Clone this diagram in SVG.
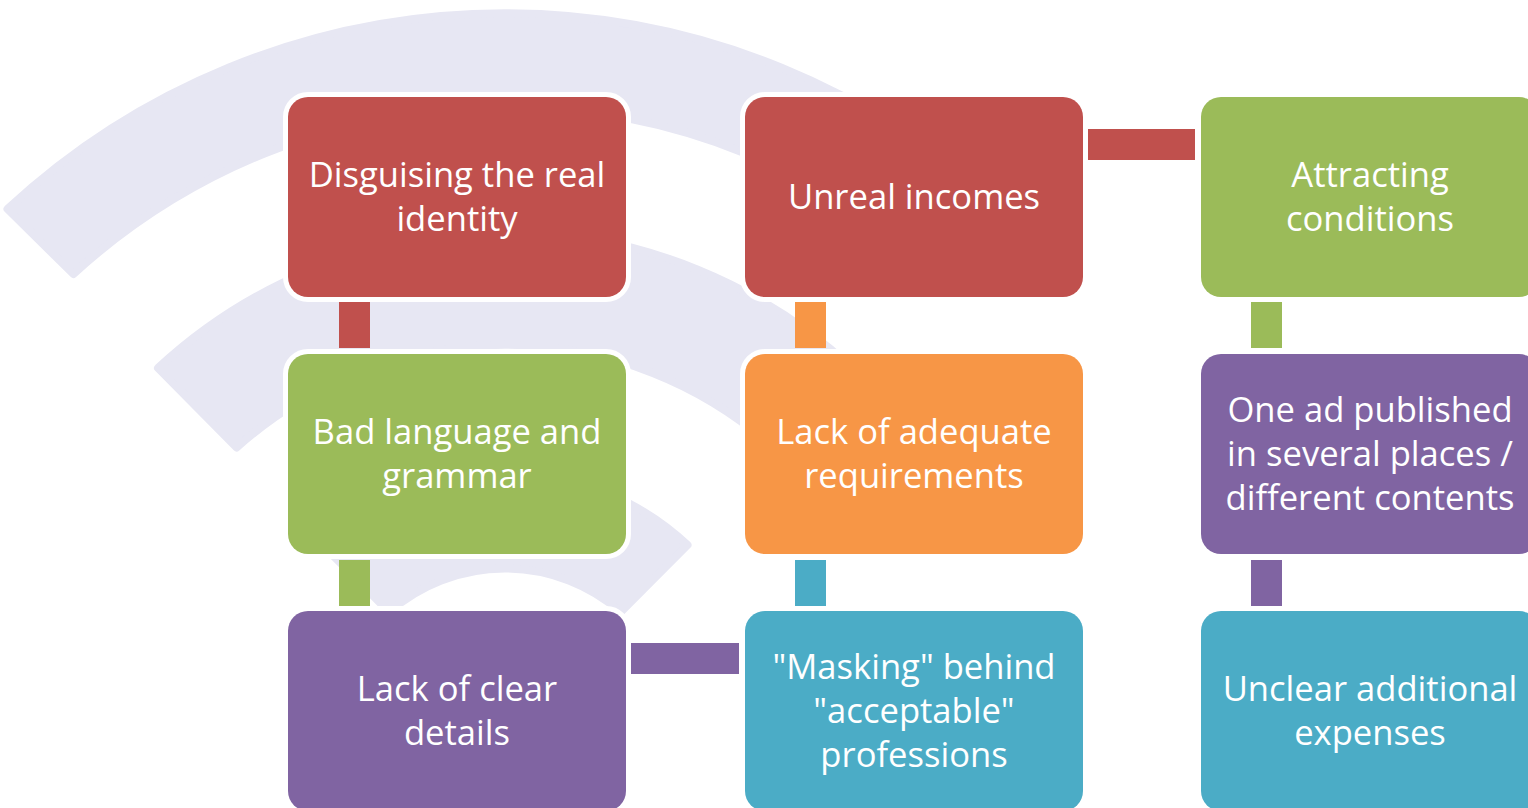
<svg xmlns="http://www.w3.org/2000/svg" width="1528" height="808" viewBox="0 0 1528 808">
<defs>
<style>
.bg{fill:#E7E7F3;stroke:#E7E7F3;stroke-width:8;stroke-linejoin:round}
.box{stroke:#FFFFFF;stroke-width:10;paint-order:stroke}
.lbl{fill:#FFFFFF;font-family:"Open Sans","Noto Sans",sans-serif;font-size:34.6px;text-anchor:middle}
.red{fill:#C0504D}.green{fill:#9BBB59}.purple{fill:#8064A2}.orange{fill:#F79646}.blue{fill:#4BACC6}
</style>
</defs>
<rect width="1528" height="808" fill="#FFFFFF"/>
<g id="background">
<path class="bg" d="M7.5,209 A730,730 0 0 1 1002.5,209 L936.6,274 A640,640 0 0 0 73.4,274 Z"/>
<path class="bg" d="M158,368 A510,510 0 0 1 852,368 L773.4,447.5 A402,402 0 0 0 236.6,447.5 Z"/>
<path class="bg" d="M322.5,545 A267,267 0 0 1 687.5,545 L620.8,612 A176,176 0 0 0 389.2,612 Z"/>
</g>
<g id="connectors">
<rect class="red" x="339" y="302" width="31" height="46"/>
<rect class="green" x="339" y="560" width="31" height="46"/>
<rect class="orange" x="795" y="302" width="31" height="46"/>
<rect class="blue" x="795" y="560" width="31" height="46"/>
<rect class="green" x="1251" y="302" width="31" height="46"/>
<rect class="purple" x="1251" y="560" width="31" height="46"/>
<rect class="purple" x="631" y="643" width="108" height="31"/>
<rect class="red" x="1087" y="129" width="108" height="31"/>
</g>
<g id="n1">
<rect class="box red" x="288" y="97" width="338" height="200" rx="20"/>
<text class="lbl" x="457" y="187">Disguising the real</text>
<text class="lbl" x="457" y="231">identity</text>
</g>
<g id="n2">
<rect class="box red" x="745" y="97" width="338" height="200" rx="20"/>
<text class="lbl" x="914" y="209">Unreal incomes</text>
</g>
<g id="n3">
<rect class="box green" x="1201" y="97" width="338" height="200" rx="20"/>
<text class="lbl" x="1370" y="187">Attracting</text>
<text class="lbl" x="1370" y="231">conditions</text>
</g>
<g id="n4">
<rect class="box green" x="288" y="354" width="338" height="200" rx="20"/>
<text class="lbl" x="457" y="444">Bad language and</text>
<text class="lbl" x="457" y="488">grammar</text>
</g>
<g id="n5">
<rect class="box orange" x="745" y="354" width="338" height="200" rx="20"/>
<text class="lbl" x="914" y="444">Lack of adequate</text>
<text class="lbl" x="914" y="488">requirements</text>
</g>
<g id="n6">
<rect class="box purple" x="1201" y="354" width="338" height="200" rx="20"/>
<text class="lbl" x="1370" y="422">One ad published</text>
<text class="lbl" x="1370" y="466">in several places /</text>
<text class="lbl" x="1370" y="510">different contents</text>
</g>
<g id="n7">
<rect class="box purple" x="288" y="611" width="338" height="200" rx="20"/>
<text class="lbl" x="457" y="701">Lack of clear</text>
<text class="lbl" x="457" y="745">details</text>
</g>
<g id="n8">
<rect class="box blue" x="745" y="611" width="338" height="200" rx="20"/>
<text class="lbl" x="914" y="679">"Masking" behind</text>
<text class="lbl" x="914" y="723">"acceptable"</text>
<text class="lbl" x="914" y="767">professions</text>
</g>
<g id="n9">
<rect class="box blue" x="1201" y="611" width="338" height="200" rx="20"/>
<text class="lbl" x="1370" y="701">Unclear additional</text>
<text class="lbl" x="1370" y="745">expenses</text>
</g>
</svg>
